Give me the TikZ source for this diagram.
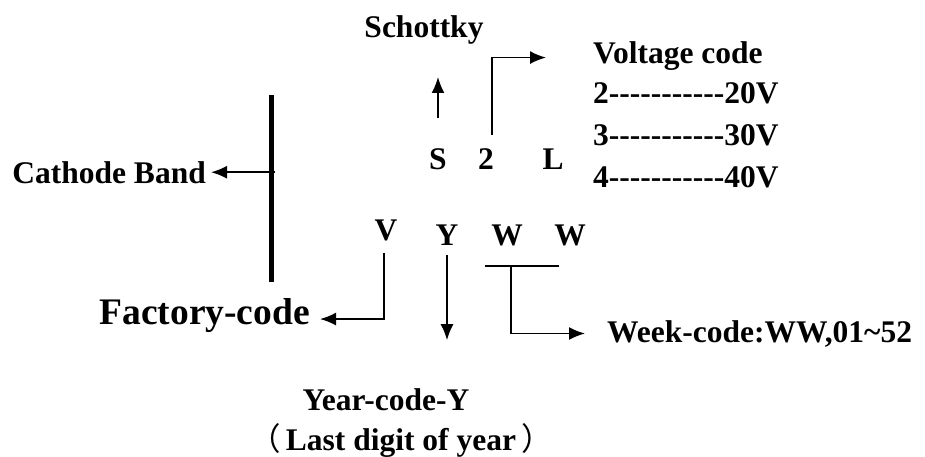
\documentclass[tikz,border=0pt]{standalone}
\usepackage{fontspec}
\setmainfont{Liberation Serif}[Ligatures=TeXOff]
\newfontfamily\cjk{Noto Sans CJK SC}
\usetikzlibrary{arrows.meta}

\begin{document}
\begin{tikzpicture}[x=1pt, y=-1pt, >={Latex[length=16pt, width=13pt]},
        txt/.style={font=\bfseries\fontsize{31.5}{38}\selectfont, inner sep=0pt},
        bigtxt/.style={font=\bfseries\fontsize{37.5}{45}\selectfont, inner sep=0pt},
        wire/.style={line width=1.8pt}]  % 坐标按像素走,y 轴朝下
            \useasboundingbox (0, 0) rectangle (925, 456);

            % 型号上下两行字母
            \node[txt, anchor=base] (S) at (438, 169) {S};
            \node[txt, anchor=base] (two) at (486, 169) {2};
            \node[txt, anchor=base] (L) at (553, 169) {L};
            \node[txt, anchor=base] (V) at (386, 240) {V};
            \node[txt, anchor=base] (Y) at (447, 245) {Y};
            \node[txt, anchor=base] (W1) at (507, 245) {W};
            \node[txt, anchor=base] (W2) at (570, 245) {W};

            % 说明文字
            \node[txt, anchor=base] (schottky) at (424, 37) {Schottky};
            \node[txt, anchor=base west] (volt) at (593, 63) {Voltage code};
            \node[txt, anchor=base west] (v20) at (593, 103) {2-----------20V};
            \node[txt, anchor=base west] (v30) at (593, 145) {3-----------30V};
            \node[txt, anchor=base west] (v40) at (593, 187) {4-----------40V};
            \node[txt, anchor=base east] (cathode) at (206, 183) {Cathode Band};
            \node[bigtxt, anchor=base east] (factory) at (310, 324) {Factory-code};
            \node[txt, anchor=base west] (week) at (607, 342) {Week-code:WW,01\textasciitilde52};
            \node[txt, anchor=base] (year) at (386, 410) {Year-code-Y};
            \node[txt, anchor=base] (digit) at (401, 450) {{\cjk\mdseries （}\hspace{5pt}Last digit of year\hspace{5pt}{\cjk\mdseries ）}};

            % 阴极色环
            \coordinate (bandtop) at (271, 95);
            \coordinate (bandbot) at (271, 282);
            \draw[line width=5pt] (bandtop) -- (bandbot);
            \draw[->, wire] ([xshift=4pt]bandtop |- cathode.east) -- ([xshift=5pt]cathode.east);

            % 各字母引出的箭头
            \draw[->, wire] ([yshift=30pt]S.north) -- ([yshift=71pt]S.north);
            \draw[->, wire] ([xshift=6pt, yshift=13pt]two.north) |- ([xshift=-47pt, yshift=-2pt]volt.west);
            \draw[->, wire] ([xshift=-2pt, yshift=-12pt]V.south) |- ([xshift=10pt, yshift=-4pt]factory.east);
            \draw[->, wire] ([yshift=-10pt]Y.south) -- ([yshift=-95pt]Y.south);

            \coordinate (wl) at ([xshift=-22pt, yshift=-20pt]W1.south);
            \coordinate (wr) at ([xshift=-11pt, yshift=-20pt]W2.south);
            \draw[wire] (wl) -- (wr);  % WW 下方横线
            \draw[->, wire] ([xshift=26pt]wl) |- ([xshift=-22pt]week.west);
        \end{tikzpicture}
\end{document}
